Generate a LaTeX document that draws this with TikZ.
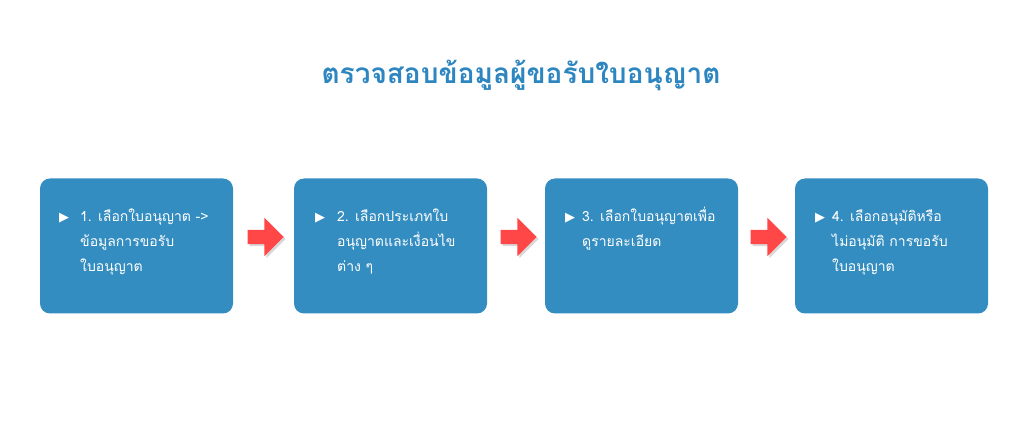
\documentclass[tikz,border=0pt]{standalone}
\usepackage{fontspec}
\newfontfamily\thai[Script=Thai]{Loma}
\newfontfamily\dejavu{DejaVu Sans}
\usetikzlibrary{shapes.arrows,shadows}
\definecolor{boxblue}{RGB}{52,141,193}
\definecolor{titleblue}{RGB}{46,134,193}
\definecolor{arrowred}{RGB}{255,71,71}
\newcommand{\steplines}[1]{\parbox[t]{160pt}{\raggedright\thai\fontsize{14}{25}\selectfont #1}}
\tikzset{
  stepbox/.style={draw=none,fill=boxblue,rounded corners=10pt,minimum width=193pt,minimum height=135pt,inner sep=0pt},
  steptext/.style={text=white,anchor=base west,inner sep=0pt},
  bullet/.style={text=white,font=\dejavu\fontsize{13}{14}\selectfont,anchor=base west,inner sep=0pt},
  flowarrow/.style={single arrow,fill=arrowred,draw=none,minimum height=36pt,inner xsep=0pt,inner ysep=7pt,single arrow head extend=12pt,single arrow tip angle=90,drop shadow={shadow xshift=2pt,shadow yshift=-2pt,opacity=0.3}}
}
\begin{document}
\begin{tikzpicture}[x=1pt,y=1pt]
\useasboundingbox (0,0) rectangle (1024,420);
\fill[white] (0,0) rectangle (1024,420);
\node[text=titleblue,font=\thai\bfseries\fontsize{28}{32}\selectfont] (title) at (521,345) {ตรวจสอบข้อมูลผู้ขอรับใบอนุญาต};
\node[stepbox] (b1) at (136.5,174) {};
\node[stepbox] (b2) at (390.5,174) {};
\node[stepbox] (b3) at (641.5,174) {};
\node[stepbox] (b4) at (891.5,174) {};
\node[bullet] (u1) at (59,198) {▶};
\node[bullet] (u2) at (315,198) {▶};
\node[bullet] (u3) at (565,198) {▶};
\node[bullet] (u4) at (815,198) {▶};
\node[steptext] (t1) at (80,198) {\steplines{1. เลือกใบอนุญาต ->\\ข้อมูลการขอรับ\\ใบอนุญาต}};
\node[steptext] (t2) at (337,198) {\steplines{2. เลือกประเภทใบ\\อนุญาตและเงื่อนไข\\ต่าง ๆ}};
\node[steptext] (t3) at (582,198) {\steplines{3. เลือกใบอนุญาตเพื่อ\\ดูรายละเอียด}};
\node[steptext] (t4) at (832,198) {\steplines{4. เลือกอนุมัติหรือ\\ไม่อนุมัติ การขอรับ\\ใบอนุญาต}};
\node[flowarrow] (a1) at (262,183) {};
\node[flowarrow] (a2) at (515,183) {};
\node[flowarrow] (a3) at (765,183) {};
\end{tikzpicture}
\end{document}
